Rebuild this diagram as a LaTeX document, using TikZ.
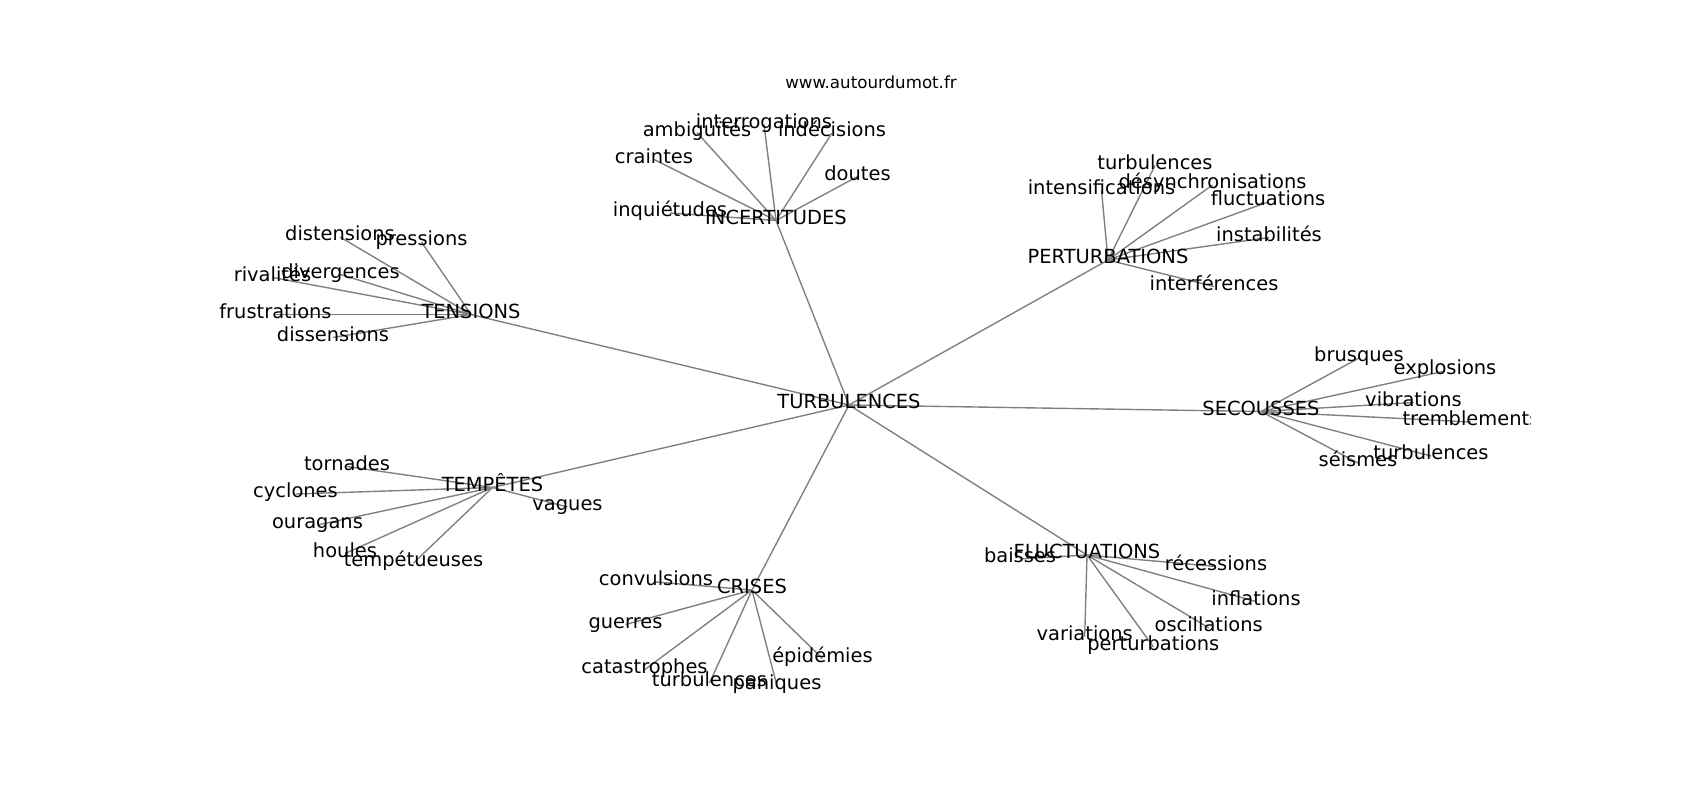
\documentclass[tikz,border=0pt]{standalone}
\usepackage{fontspec}
\setmainfont{DejaVu Sans}
\usepackage{tikz}
\pgfdeclarelayer{edges}
\pgfsetlayers{edges,main}

\tikzset{
  word/.style={font=\fontsize{14}{16}\selectfont, inner sep=0pt, text height=0.76em, text depth=0.21em, yshift=-1.8pt},
  link/.style={draw=gray, line width=1pt}
}

\begin{document}
\begin{tikzpicture}[x=0.72pt, y=-0.72pt]
         \useasboundingbox (0,0) rectangle (1700,800);
         \node [anchor=base, font=\fontsize{12}{14}\selectfont] (WWW) at (871, 88) {www.autourdumot.fr};
         \begin{scope}
         \clip (212.5,96) rectangle (1530,712);
         % centre
         \node [word] (TU) at (849, 402.5) {TURBULENCES};
         % incertitudes
         \node [word] (INC) at (776, 218) {INCERTITUDES};
         \node [word] (INCa) at (654, 157) {craintes};
         \node [word] (INCb) at (697, 130) {ambiguïtés};
         \node [word] (INCc) at (764, 122) {interrogations};
         \node [word] (INCd) at (832, 130.5) {indécisions};
         \node [word] (INCe) at (857.5, 174) {doutes};
         \node [word] (INCf) at (670, 210.5) {inquiétudes};
         % perturbations
         \node [word] (PER) at (1108, 257.5) {PERTURBATIONS};
         \node [word] (PERa) at (1155, 163) {turbulences};
         \node [word] (PERb) at (1101.5, 188) {intensifications};
         \node [word] (PERc) at (1212.5, 182.5) {désynchronisations};
         \node [word] (PERd) at (1268, 199.5) {fluctuations};
         \node [word] (PERe) at (1269, 235) {instabilités};
         \node [word] (PERf) at (1214, 284) {interférences};
         % tensions
         \node [word] (TEN) at (471, 312) {TENSIONS};
         \node [word] (TENa) at (340, 234.5) {distensions};
         \node [word] (TENb) at (421.5, 239.5) {pressions};
         \node [word] (TENc) at (272.5, 275) {rivalités};
         \node [word] (TENd) at (340.5, 272) {divergences};
         \node [word] (TENe) at (275.5, 312) {frustrations};
         \node [word] (TENf) at (333, 335) {dissensions};
         % secousses
         \node [word] (SEC) at (1261, 409) {SECOUSSES};
         \node [word] (SECa) at (1359, 355.5) {brusques};
         \node [word] (SECb) at (1445, 368.5) {explosions};
         \node [word] (SECc) at (1413.5, 400) {vibrations};
         \node [word] (SECd) at (1471, 419.5) {tremblements};
         \node [word] (SECe) at (1358, 460.5) {séismes};
         \node [word] (SECf) at (1431, 453.5) {turbulences};
         % tempetes
         \node [word] (TEM) at (492.5, 485) {TEMPÊTES};
         \node [word] (TEMa) at (347, 464) {tornades};
         \node [word] (TEMb) at (295.5, 491.5) {cyclones};
         \node [word] (TEMc) at (317.5, 522.5) {ouragans};
         \node [word] (TEMd) at (345, 551) {houles};
         \node [word] (TEMe) at (413.5, 560.5) {tempétueuses};
         \node [word] (TEMf) at (567.5, 504.5) {vagues};
         % crises
         \node [word] (CRI) at (752, 587.5) {CRISES};
         \node [word] (CRIa) at (656, 579.5) {convulsions};
         \node [word] (CRIb) at (625.5, 622) {guerres};
         \node [word] (CRIc) at (644.5, 667.3) {catastrophes};
         \node [word] (CRId) at (709.5, 680.5) {turbulences};
         \node [word] (CRIe) at (777, 683.5) {paniques};
         \node [word] (CRIf) at (822.5, 656) {épidémies};
         % fluctuations
         \node [word] (FLU) at (1087, 552.5) {FLUCTUATIONS};
         \node [word] (FLUa) at (1020, 556.5) {baisses};
         \node [word] (FLUb) at (1216, 564) {récessions};
         \node [word] (FLUc) at (1256, 599) {inflations};
         \node [word] (FLUd) at (1208.7, 625.3) {oscillations};
         \node [word] (FLUe) at (1084.7, 634) {variations};
         \node [word] (FLUf) at (1153.3, 644.3) {perturbations};
         \end{scope}
         \begin{pgfonlayer}{edges}
         \draw [link] (TU.center) -- (INC.center);
         \draw [link] (TU.center) -- (PER.center);
         \draw [link] (TU.center) -- (TEN.center);
         \draw [link] (TU.center) -- (SEC.center);
         \draw [link] (TU.center) -- (TEM.center);
         \draw [link] (TU.center) -- (CRI.center);
         \draw [link] (TU.center) -- (FLU.center);
         \draw [link] (INC.center) -- (INCa.center);
         \draw [link] (INC.center) -- (INCb.center);
         \draw [link] (INC.center) -- (INCc.center);
         \draw [link] (INC.center) -- (INCd.center);
         \draw [link] (INC.center) -- (INCe.center);
         \draw [link] (INC.center) -- (INCf.center);
         \draw [link] (PER.center) -- (PERa.center);
         \draw [link] (PER.center) -- (PERb.center);
         \draw [link] (PER.center) -- (PERc.center);
         \draw [link] (PER.center) -- (PERd.center);
         \draw [link] (PER.center) -- (PERe.center);
         \draw [link] (PER.center) -- (PERf.center);
         \draw [link] (TEN.center) -- (TENa.center);
         \draw [link] (TEN.center) -- (TENb.center);
         \draw [link] (TEN.center) -- (TENc.center);
         \draw [link] (TEN.center) -- (TENd.center);
         \draw [link] (TEN.center) -- (TENe.center);
         \draw [link] (TEN.center) -- (TENf.center);
         \draw [link] (SEC.center) -- (SECa.center);
         \draw [link] (SEC.center) -- (SECb.center);
         \draw [link] (SEC.center) -- (SECc.center);
         \draw [link] (SEC.center) -- (SECd.center);
         \draw [link] (SEC.center) -- (SECe.center);
         \draw [link] (SEC.center) -- (SECf.center);
         \draw [link] (TEM.center) -- (TEMa.center);
         \draw [link] (TEM.center) -- (TEMb.center);
         \draw [link] (TEM.center) -- (TEMc.center);
         \draw [link] (TEM.center) -- (TEMd.center);
         \draw [link] (TEM.center) -- (TEMe.center);
         \draw [link] (TEM.center) -- (TEMf.center);
         \draw [link] (CRI.center) -- (CRIa.center);
         \draw [link] (CRI.center) -- (CRIb.center);
         \draw [link] (CRI.center) -- (CRIc.center);
         \draw [link] (CRI.center) -- (CRId.center);
         \draw [link] (CRI.center) -- (CRIe.center);
         \draw [link] (CRI.center) -- (CRIf.center);
         \draw [link] (FLU.center) -- (FLUa.center);
         \draw [link] (FLU.center) -- (FLUb.center);
         \draw [link] (FLU.center) -- (FLUc.center);
         \draw [link] (FLU.center) -- (FLUd.center);
         \draw [link] (FLU.center) -- (FLUe.center);
         \draw [link] (FLU.center) -- (FLUf.center);
         \end{pgfonlayer}
 \end{tikzpicture}
\end{document}
